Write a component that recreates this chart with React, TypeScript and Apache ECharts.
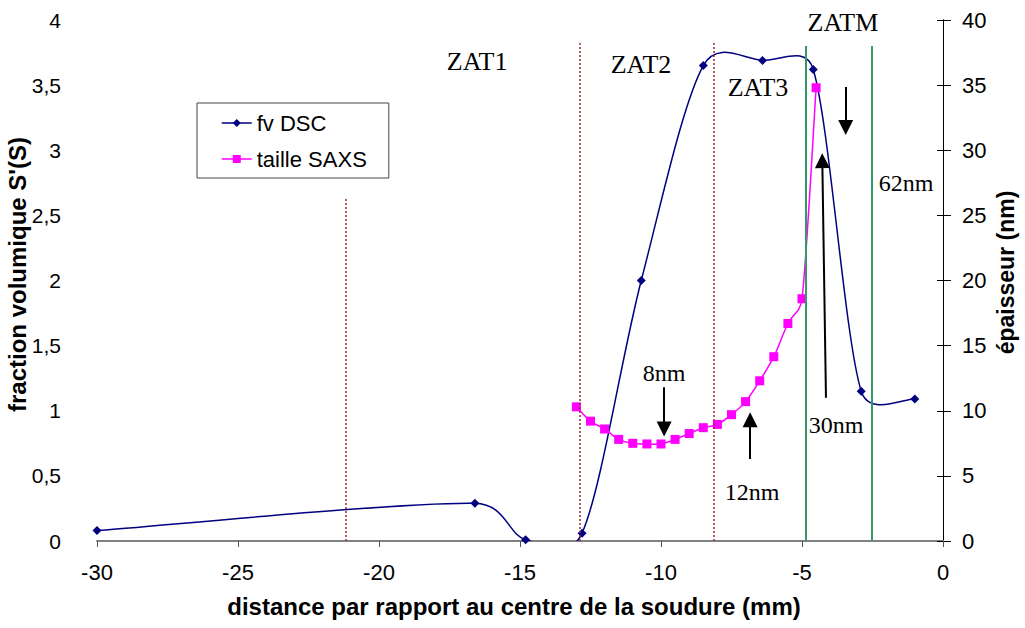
import React, { useEffect, useRef } from "react";
import * as echarts from "echarts";

// fv DSC (left axis)
const dscX = [-30, -16.6, -14.8, -12.8, -10.7, -8.5, -6.4, -4.6, -2.9, -1];
const dscY = [0.08, 0.29, 0.01, 0.06, 2.0, 3.65, 3.69, 3.62, 1.15, 1.09];

// taille SAXS (right axis, nm)
const saxsX = [-13, -12.5, -12, -11.5, -11, -10.5, -10, -9.5, -9, -8.5, -8, -7.5, -7, -6.5, -6, -5.5, -5, -4.5];
const saxsY = [10.3, 9.2, 8.6, 7.8, 7.5, 7.45, 7.45, 7.8, 8.25, 8.7, 8.95, 9.7, 10.7, 12.3, 14.15, 16.7, 18.6, 34.8];

// zone boundaries
const dottedX = [-21.17, -12.87, -8.12];
const dottedTop = [2.63, 3.83, 3.83];
const greenX = [-4.86, -2.52];
const greenTop = [3.8, 3.8];

// zone labels (data coords, left axis)
const zoneTexts = ["ZAT1", "ZAT2", "ZAT3", "ZATM"];
const zoneX = [-16.52, -10.71, -6.56, -3.55];
const zoneY = [3.68, 3.66, 3.48, 3.98];

// size labels
const sizeTexts = ["8nm", "12nm", "30nm", "62nm"];
const sizeX = [-9.89, -6.77, -3.79, -1.31];
const sizeY = [1.29, 0.38, 0.89, 2.75];

// arrows: start and end (data coords, left axis)
const arrowFromX = [-9.89, -6.84, -4.15, -3.45];
const arrowFromY = [1.18, 0.63, 1.1, 3.485];
const arrowToX = [-9.89, -6.84, -4.28, -3.45];
const arrowToY = [0.86, 0.93, 2.92, 3.175];

const SANS = "'Liberation Sans', Arial, sans-serif";
const SERIF = "'Liberation Serif', 'Times New Roman', serif";
const NAVY = "#000080";
const MAGENTA = "#ff00ff";

// Excel-like smoothed path through pixel points
function smoothPath(pts: number[][]): string {
  const n = pts.length;
  const dist = (a: number[], b: number[]) => Math.hypot(b[0] - a[0], b[1] - a[1]);
  let d = `M${pts[0][0]},${pts[0][1]}`;
  for (let i = 0; i < n - 1; i++) {
    const p0 = pts[i - 1] || pts[i];
    const p1 = pts[i];
    const p2 = pts[i + 1];
    const p3 = pts[i + 2] || pts[i + 1];
    const d12 = dist(p1, p2);
    const d02 = dist(p0, p2);
    const d13 = dist(p1, p3);
    let f1 = 1 / 6;
    if (d02 / 6 > d12 / 2 && d02 > 0) f1 = d12 / (2 * d02);
    let f2 = 1 / 6;
    if (d13 / 6 > d12 / 2 && d13 > 0) f2 = d12 / (2 * d13);
    const c1 = [p1[0] + (p2[0] - p0[0]) * f1, p1[1] + (p2[1] - p0[1]) * f1];
    const c2 = [p2[0] - (p3[0] - p1[0]) * f2, p2[1] - (p3[1] - p1[1]) * f2];
    d += ` C${c1[0]},${c1[1]} ${c2[0]},${c2[1]} ${p2[0]},${p2[1]}`;
  }
  return d;
}

function curveSeries(xs: number[], ys: number[], axis: number, color: string, z: number) {
  return {
    type: "custom",
    yAxisIndex: axis,
    silent: true,
    clip: true,
    z,
    data: xs.map((x, i) => [x, ys[i]]),
    renderItem: (params: any, api: any) => {
      if (params.dataIndex !== 0) return null;
      const pts = xs.map((x, i) => api.coord([x, ys[i]]));
      const cs = params.coordSys;
      return {
        type: "path",
        shape: { pathData: smoothPath(pts) },
        style: { fill: "none", stroke: color, lineWidth: 1.5 },
        clipPath: { type: "rect", shape: { x: cs.x, y: cs.y - 2, width: cs.width, height: cs.height + 4 } },
      };
    },
  };
}

export default function App() {
  const ref = useRef<HTMLDivElement>(null);

  useEffect(() => {
    if (!ref.current) return;
    const chart = echarts.init(ref.current, null, { renderer: "svg" });

    const markLines: any[] = [];
    dottedX.forEach((x, i) => {
      markLines.push([
        { coord: [x, 0], lineStyle: { color: "#9c2b2b", width: 1.5, type: [2, 2] }, symbol: "none" },
        { coord: [x, dottedTop[i]], symbol: "none" },
      ]);
    });
    greenX.forEach((x, i) => {
      markLines.push([
        { coord: [x, 0], lineStyle: { color: "#339966", width: 2, type: "solid" }, symbol: "none" },
        { coord: [x, greenTop[i]], symbol: "none" },
      ]);
    });
    arrowFromX.forEach((x, i) => {
      markLines.push([
        { coord: [x, arrowFromY[i]], lineStyle: { color: "#000", width: 2, type: "solid" }, symbol: "none" },
        { coord: [arrowToX[i], arrowToY[i]], symbol: "triangle", symbolSize: 15 },
      ]);
    });

    const fmt = (v: number) => String(v).replace(".", ",");

    chart.setOption({
      animation: false,
      backgroundColor: "#fff",
      grid: { left: 97, right: 82, top: 20, bottom: 87, outerBoundsMode: "none", containLabel: false },
      legend: {
        data: [
          { name: "fv DSC", lineStyle: { color: NAVY, width: 1.5, opacity: 1 } },
          { name: "taille SAXS", lineStyle: { color: MAGENTA, width: 1.5, opacity: 1 } },
        ],
        orient: "vertical",
        left: 197,
        top: 103,
        backgroundColor: "#fff",
        borderColor: "#444",
        borderWidth: 1,
        borderRadius: 0,
        padding: [9, 22, 8, 24],
        itemGap: 14,
        itemWidth: 30,
        itemHeight: 10,
        textStyle: { fontFamily: SANS, fontSize: 22, color: "#000" },
      },
      xAxis: {
        type: "value",
        min: -30,
        max: 0,
        interval: 5,
        name: "distance par rapport au centre de la soudure (mm)",
        nameLocation: "middle",
        nameGap: 53,
        nameMoveOverlap: false,
        nameTextStyle: { fontFamily: SANS, fontSize: 24, fontWeight: "bold", color: "#000", padding: [0, 12, 0, 0] },
        axisLine: { onZero: false, lineStyle: { color: "#808080", width: 2 } },
        axisTick: { show: true, length: 6, lineStyle: { color: "#555" } },
        axisLabel: { margin: 20, fontFamily: SANS, fontSize: 22, color: "#000" },
        splitLine: { show: false },
      },
      yAxis: [
        {
          type: "value",
          min: 0,
          max: 4,
          interval: 0.5,
          name: "fraction volumique S'(S)",
          nameLocation: "middle",
          nameGap: 68,
          nameMoveOverlap: false,
          nameTextStyle: { fontFamily: SANS, fontSize: 24, fontWeight: "bold", color: "#000", padding: [0, 0, 0, 12] },
          axisLine: { show: true, lineStyle: { color: "#000", width: 1 } },
          axisTick: { show: true, length: 6, lineStyle: { color: "#000" } },
          axisLabel: { margin: 36, fontFamily: SANS, fontSize: 21, color: "#000", formatter: fmt },
          splitLine: { show: false },
        },
        {
          type: "value",
          min: 0,
          max: 40,
          interval: 5,
          position: "right",
          name: "épaisseur (nm)",
          nameLocation: "middle",
          nameGap: 51,
          nameMoveOverlap: false,
          nameTextStyle: { fontFamily: SANS, fontSize: 23, fontWeight: "bold", color: "#000", padding: [0, 0, 0, 16] },
          axisLine: { show: true, lineStyle: { color: "#000", width: 1 } },
          axisTick: { show: true, length: 8, lineStyle: { color: "#000" } },
          axisLabel: { margin: 19, fontFamily: SANS, fontSize: 22, color: "#000" },
          splitLine: { show: false },
        },
      ],
      series: [
        curveSeries(dscX, dscY, 0, NAVY, 2),
        curveSeries(saxsX, saxsY, 1, MAGENTA, 2),
        {
          name: "fv DSC",
          type: "line",
          yAxisIndex: 0,
          data: dscX.map((x, i) => [x, dscY[i]]),
          symbol: "diamond",
          symbolSize: 9,
          color: NAVY,
          lineStyle: { color: NAVY, width: 1.5, opacity: 0 },
          itemStyle: { color: NAVY },
          z: 3,
          markLine: {
            silent: true,
            animation: false,
            label: { show: false },
            emphasis: { disabled: true },
            data: markLines,
          },
        },
        {
          name: "taille SAXS",
          type: "line",
          yAxisIndex: 1,
          data: saxsX.map((x, i) => [x, saxsY[i]]),
          symbol: "rect",
          symbolSize: 9,
          color: MAGENTA,
          lineStyle: { color: MAGENTA, width: 1.5, opacity: 0 },
          itemStyle: { color: MAGENTA },
          z: 4,
        },
      ],
    });

    const toPx = (x: number, y: number) =>
      chart.convertToPixel({ xAxisIndex: 0, yAxisIndex: 0 } as any, [x, y]) as number[];

    const graphics: any[] = [];
    zoneTexts.forEach((t, i) => {
      const p = toPx(zoneX[i], zoneY[i]);
      graphics.push({
        type: "text",
        x: p[0],
        y: p[1],
        style: { text: t, font: `26px ${SERIF}`, fill: "#000", align: "center", verticalAlign: "middle" },
        z: 10,
      });
    });
    sizeTexts.forEach((t, i) => {
      const p = toPx(sizeX[i], sizeY[i]);
      graphics.push({
        type: "text",
        x: p[0],
        y: p[1],
        style: { text: t, font: `24px ${SERIF}`, fill: "#000", align: "center", verticalAlign: "middle" },
        z: 10,
      });
    });
    chart.setOption({ graphic: graphics });

    return () => chart.dispose();
  }, []);

  return <div ref={ref} style={{ position: "absolute", left: 0, top: 0, width: 1025, height: 628 }} />;
}
